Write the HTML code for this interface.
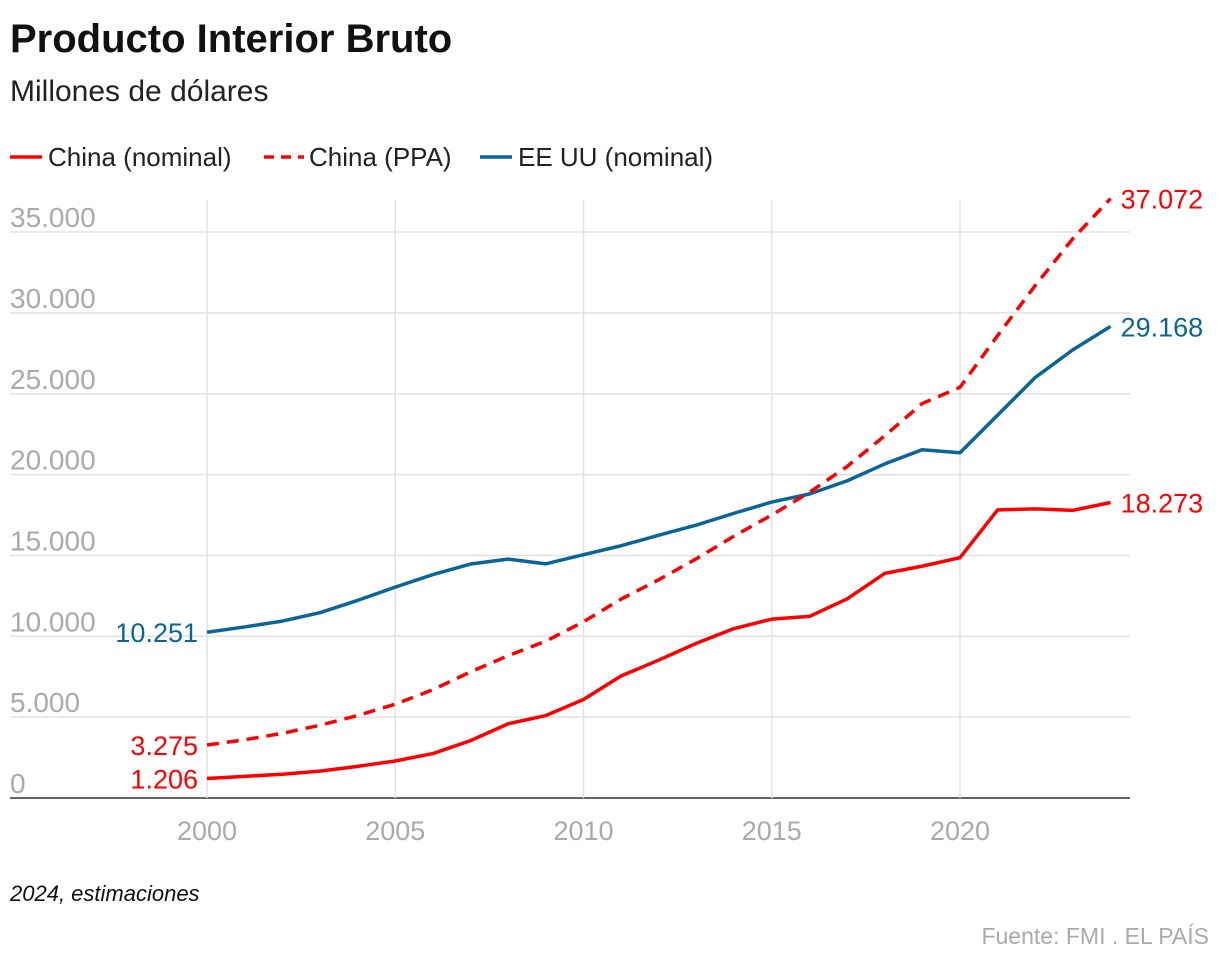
<!DOCTYPE html>
<html><head><meta charset="utf-8"><style>
body{margin:0;background:#fff;width:1220px;height:964px;overflow:hidden;font-family:"Liberation Sans",sans-serif}
</style></head><body>
<svg id="c" width="1220" height="964" font-family="Liberation Sans, sans-serif">
<text x="10" y="52" font-size="40" font-weight="bold" fill="#111">Producto Interior Bruto</text>
<text x="10" y="101" font-size="30" fill="#222">Millones de dólares</text>
<g>
<line x1="10" y1="157" x2="42" y2="157" stroke="#f00" stroke-width="3.5"/>
<text x="48" y="166" font-size="26" fill="#222">China (nominal)</text>
<line x1="264" y1="157" x2="304" y2="157" stroke="#f00" stroke-width="3.5" stroke-dasharray="10,7"/>
<text x="309" y="166" font-size="26" fill="#222">China (PPA)</text>
<line x1="480" y1="157" x2="512" y2="157" stroke="#0a6599" stroke-width="3.5"/>
<text x="518" y="166" font-size="26" fill="#222">EE UU (nominal)</text>
</g>
<g id="grid"></g><g id="lines"></g><g id="labels"></g>
<text x="10" y="901" font-size="22" font-style="italic" fill="#111">2024, estimaciones</text>
<text x="1209" y="944" font-size="23" fill="#aaa" text-anchor="end">Fuente: FMI . EL PAÍS</text>
</svg>
<script>
const years=[2000,2001,2002,2003,2004,2005,2006,2007,2008,2009,2010,2011,2012,2013,2014,2015,2016,2017,2018,2019,2020,2021,2022,2023,2024];
const chinaNominal=[1206,1340,1470,1660,1955,2290,2750,3550,4590,5100,6090,7550,8530,9570,10480,11060,11230,12310,13890,14340,14860,17820,17880,17790,18273];
const chinaPPA=[3275,3600,4000,4500,5100,5800,6700,7800,8800,9700,10900,12300,13500,14800,16200,17500,18900,20500,22400,24400,25400,28600,31700,34600,37072];
const usNominal=[10251,10580,10940,11460,12220,13040,13820,14470,14770,14480,15050,15600,16250,16880,17610,18300,18800,19610,20660,21540,21350,23680,26010,27720,29168];
const yTicks=[0,5000,10000,15000,20000,25000,30000,35000];
const yTickLabels=["0","5.000","10.000","15.000","20.000","25.000","30.000","35.000"];
const xTicks=[2000,2005,2010,2015,2020];
const X=y=>207+(y-2000)*37.65;
const Y=v=>798-v*0.01617;
const NS="http://www.w3.org/2000/svg";
function mk(p,t,a){const e=document.createElementNS(NS,t);for(const k in a)e.setAttribute(k,a[k]);p.appendChild(e);return e;}
const g=document.getElementById('grid'),L=document.getElementById('lines'),lb=document.getElementById('labels');
yTicks.forEach((v,i)=>{
 const l=mk(g,'line',{x1:10,x2:1130,y1:Y(v),y2:Y(v),stroke:i==0?'#333':'#e2e2e2','stroke-width':1.5});
 
 
 const t=mk(g,'text',{x:10,y:Y(v)-5,'font-size':28,fill:'#aaa'});t.textContent=yTickLabels[i];
 
 
});
xTicks.forEach(y=>{
 const l=mk(g,'line',{x1:X(y),x2:X(y),y1:200,y2:798,stroke:'#e2e2e2','stroke-width':1.5});
 
 
 const t=mk(g,'text',{x:X(y),y:840,'font-size':27,fill:'#aaa','text-anchor':'middle'});t.textContent=y;
 
 
});
function fmt(v){return v.toLocaleString('de-DE');}
function series(vals,color,dash,name){
 const p=mk(L,'polyline',{points:vals.map((v,i)=>X(years[i])+','+Y(v)).join(' '),fill:'none',stroke:color,'stroke-width':3.5,'stroke-linejoin':'round'});
 if(dash)p.setAttribute('stroke-dasharray',dash);
 
 
 const n=vals.length-1;
 const a=mk(lb,'text',{x:X(years[0])-9,y:Y(vals[0])+10,'font-size':27,fill:color,'text-anchor':'end'});a.textContent=fmt(vals[0]);
 
 
 const b=mk(lb,'text',{x:X(years[n])+10,y:Y(vals[n])+10,'font-size':27,fill:color});b.textContent=fmt(vals[n]);
 
 
}
series(usNominal,'#0a6599',null,'us-nominal-line');
series(chinaPPA,'#f00','12,8','china-ppa-line');
series(chinaNominal,'#f00',null,'china-nominal-line');
</script>
</body></html>
